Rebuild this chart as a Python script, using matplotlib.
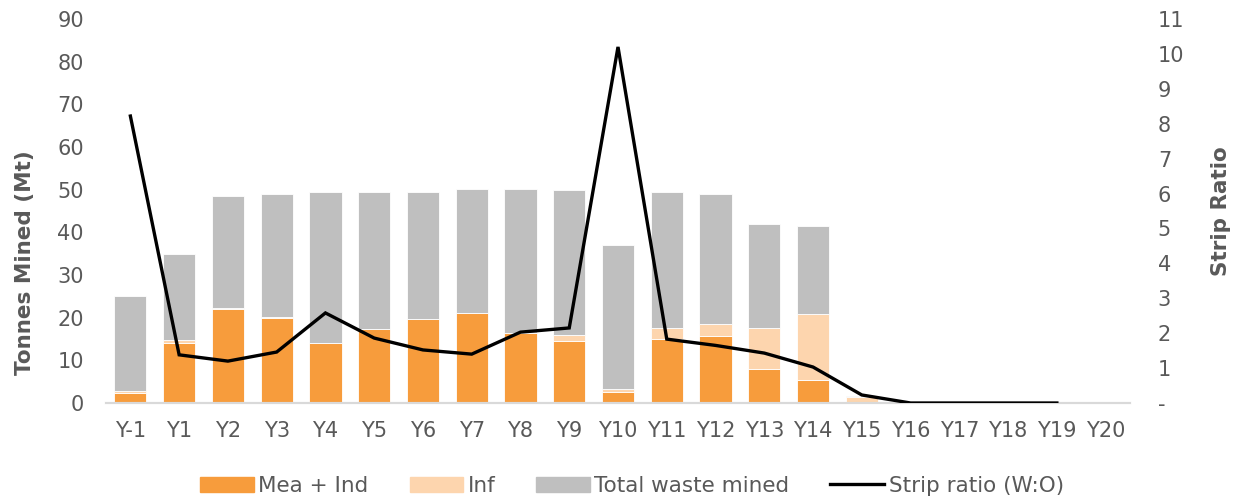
import matplotlib
matplotlib.use("Agg")
import matplotlib.pyplot as plt
import numpy as np
from matplotlib.patches import Patch
from matplotlib.lines import Line2D

periods = ["Y-1", "Y1", "Y2", "Y3", "Y4", "Y5", "Y6", "Y7", "Y8", "Y9", "Y10",
           "Y11", "Y12", "Y13", "Y14", "Y15", "Y16", "Y17", "Y18", "Y19", "Y20"]
mea_ind = [2.3, 14.1, 22.0, 20.0, 14.0, 17.3, 19.8, 21.0, 16.5, 14.6, 2.6,
           15.0, 15.7, 8.0, 5.4, 0.0, 0, 0, 0, 0, 0]
inferred = [0.5, 0.7, 0.2, 0.1, 0.0, 0.0, 0.0, 0.0, 0.0, 1.4, 0.7,
            2.6, 2.9, 9.6, 15.4, 1.4, 0, 0, 0, 0, 0]
waste = [22.3, 20.1, 26.3, 28.9, 35.5, 32.2, 29.7, 29.1, 33.6, 33.9, 33.7,
         31.9, 30.4, 24.4, 20.7, 0.3, 0, 0, 0, 0, 0]
strip_ratio = [8.22, 1.38, 1.20, 1.46, 2.58, 1.86, 1.52, 1.40, 2.03, 2.15, 10.2,
               1.83, 1.65, 1.43, 1.03, 0.23, 0, 0, 0, 0]

c_mi = "#F79C3C"
c_inf = "#FDD5AE"
c_waste = "#BFBFBF"
txt = "#595959"

plt.rcParams["font.family"] = ["DejaVu Sans"]

W, H = 1240, 499
fig = plt.figure(figsize=(W / 100, H / 100), dpi=100)
ax = fig.add_axes([106 / W, 96 / H, 1024 / W, 384 / H])
ax2 = ax.twinx()

x = np.arange(len(periods))
mi = np.array(mea_ind)
inf = np.array(inferred)
wst = np.array(waste)
w = 0.66
ax.bar(x, mi, w, color=c_mi, edgecolor="white", linewidth=0.6, zorder=2)
ax.bar(x, inf, w, bottom=mi, color=c_inf, edgecolor="white", linewidth=0.6, zorder=2)
ax.bar(x, wst, w, bottom=mi + inf, color=c_waste, edgecolor="white", linewidth=0.6, zorder=2)

ax2.plot(np.arange(len(strip_ratio)), strip_ratio, color="black", lw=2.4,
         solid_joinstyle="miter", zorder=3)

ax.set_xlim(-0.5, len(periods) - 0.5)
ax.set_ylim(0, 90)
ax.set_yticks(np.arange(0, 91, 10))
ax2.set_ylim(0, 11)
ax2.set_yticks(np.arange(0, 12, 1))
ax2.set_yticklabels(["-"] + [str(i) for i in range(1, 12)])
ax.set_xticks(x)
ax.set_xticklabels(periods)

for a in (ax, ax2):
    for s in ("top", "left", "right"):
        a.spines[s].set_visible(False)
    a.spines["bottom"].set_color("#D9D9D9")
    a.spines["bottom"].set_linewidth(1.5)
    a.tick_params(length=0, labelsize=15, colors=txt)

ax.tick_params(axis="x", pad=13)
ax.tick_params(axis="y", pad=16)
ax2.tick_params(axis="y", pad=20)

fig.text(25 / W, 1 - 263 / H, "Tonnes Mined (Mt)", rotation=90, ha="center", va="center",
         fontsize=15.5, fontweight="bold", color=txt)
fig.text(1221 / W, 1 - 211 / H, "Strip Ratio", rotation=90, ha="center", va="center",
         fontsize=15.5, fontweight="bold", color=txt)

handles = [Patch(color=c_mi), Patch(color=c_inf), Patch(color=c_waste),
           Line2D([0], [0], color="black", lw=2.4)]
labels = ["Mea + Ind", "Inf", "Total waste mined", "Strip ratio (W:O)"]
fig.legend(handles, labels, loc="center", bbox_to_anchor=(632 / W, 13 / H), ncol=4,
           frameon=False, fontsize=15.5, labelcolor=txt, handlelength=2.5,
           handletextpad=0.2, columnspacing=1.9, borderpad=0, borderaxespad=0)

fig.savefig("out.png", dpi=100)
